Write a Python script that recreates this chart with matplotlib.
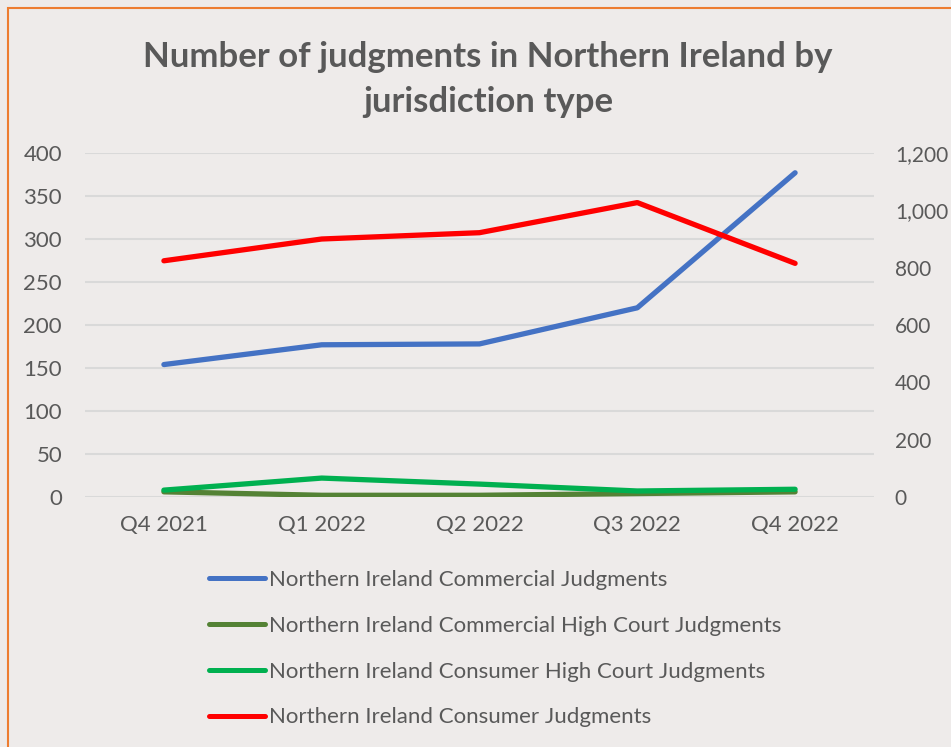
import matplotlib
matplotlib.use("Agg")
import matplotlib.pyplot as plt
from matplotlib.patches import Rectangle
from matplotlib.ticker import FuncFormatter

categories = ["Q4 2021", "Q1 2022", "Q2 2022", "Q3 2022", "Q4 2022"]
commercial = [154, 177, 178, 220, 377]
commercial_high_court = [6, 2, 2, 4, 6]
consumer_high_court = [8, 22, 15, 7, 9]
consumer = [824, 900, 922, 1027, 815]

labels = [
    "Northern Ireland Commercial Judgments",
    "Northern Ireland Commercial High Court Judgments",
    "Northern Ireland Consumer High Court Judgments",
    "Northern Ireland Consumer Judgments",
]
colors = ["#4472C4", "#548235", "#00B050", "#FF0000"]

plt.rcParams["font.family"] = ["Lato", "DejaVu Sans"]
TXT = "#595959"
BG = "#EEEBEA"

W, H = 951, 747
fig = plt.figure(figsize=(W / 100, H / 100), dpi=100, facecolor=BG)

ax = fig.add_axes([85 / W, (H - 497) / H, 789 / W, 344 / H])
ax.set_facecolor(BG)
ax2 = ax.twinx()

x = list(range(len(categories)))
lw = 3.8
l1, = ax.plot(x, commercial, color=colors[0], lw=lw, solid_capstyle="round", zorder=3)
l2, = ax.plot(x, commercial_high_court, color=colors[1], lw=lw, solid_capstyle="round", zorder=3)
l3, = ax.plot(x, consumer_high_court, color=colors[2], lw=lw, solid_capstyle="round", zorder=4)
l4, = ax2.plot(x, consumer, color=colors[3], lw=lw, solid_capstyle="round", zorder=3)

ax.set_xlim(-0.5, len(categories) - 0.5)
ax.set_ylim(0, 400)
ax2.set_ylim(0, 1200)
ax.set_yticks(range(0, 401, 50))
ax2.set_yticks(range(0, 1201, 200))
ax2.yaxis.set_major_formatter(FuncFormatter(lambda v, p: f"{int(v):,}"))
ax.set_xticks(x)
ax.set_xticklabels(categories)

ax.grid(axis="y", color="#D9D9D9", lw=1.5)
ax.set_axisbelow(True)
for a in (ax, ax2):
    for s in a.spines.values():
        s.set_visible(False)
    a.tick_params(length=0, labelsize=16, colors=TXT)
ax.tick_params(axis="y", pad=16.5)
ax2.tick_params(axis="y", pad=15, labelsize=15)
ax.tick_params(axis="x", pad=13)

fig.text(488 / W, 1 - 57 / H, "Number of judgments in Northern Ireland by",
         ha="center", va="center", fontsize=25, fontweight="bold", color=TXT)
fig.text(488 / W, 1 - 102 / H, "jurisdiction type",
         ha="center", va="center", fontsize=25, fontweight="bold", color=TXT)

leg = fig.legend([l1, l2, l3, l4], labels, loc="upper left",
                 bbox_to_anchor=(209 / W, 1 - 570 / H), frameon=False,
                 fontsize=16, labelcolor=TXT, handlelength=2.5, handletextpad=0.18,
                 labelspacing=1.16, borderaxespad=0, borderpad=0)
for h in leg.legend_handles:
    h.set_linewidth(3.6)

fig.add_artist(Rectangle((8 / W, -0.1), 1.2, 1 - 8 / H + 0.1, transform=fig.transFigure,
                         fill=False, edgecolor="#ED7D31", lw=1.5, clip_on=False))

fig.savefig("out.png", dpi=100, facecolor=BG)
